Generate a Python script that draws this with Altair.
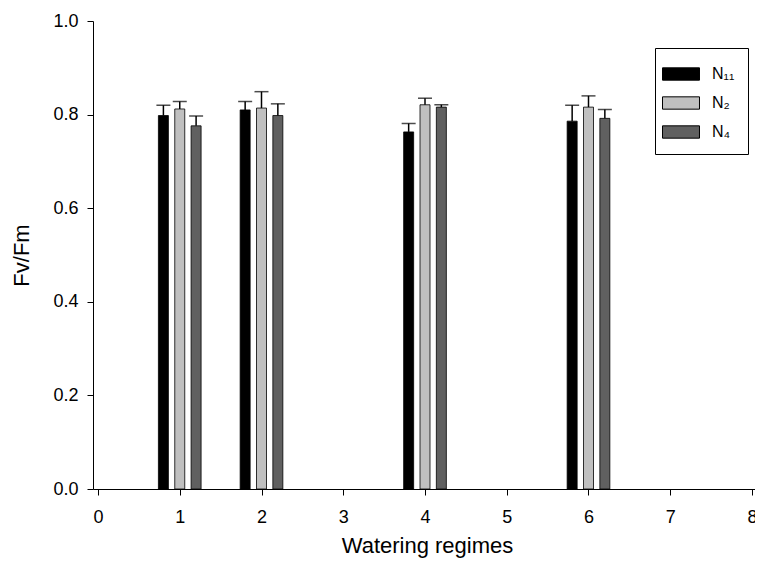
import altair as alt
import pandas as pd

# ---- data ----
regimes = [1, 2, 4, 6]
series = ["N₁₁", "N₂", "N₄"]
n11_mean = [0.798, 0.810, 0.763, 0.786]
n11_upper = [0.820, 0.828, 0.781, 0.820]
n2_mean = [0.812, 0.814, 0.821, 0.816]
n2_upper = [0.828, 0.849, 0.835, 0.840]
n4_mean = [0.776, 0.798, 0.816, 0.792]
n4_upper = [0.797, 0.823, 0.821, 0.811]
colors = ["#000000", "#c0c0c0", "#606060"]
x_ticks = [0, 1, 2, 3, 4, 5, 6, 7, 8]
y_ticks = [0.0, 0.2, 0.4, 0.6, 0.8, 1.0]

means = [n11_mean, n2_mean, n4_mean]
uppers = [n11_upper, n2_upper, n4_upper]
rows = []
for si, name in enumerate(series):
    for ri, reg in enumerate(regimes):
        rows.append({"regime": reg, "series": name, "idx": si,
                     "mean": means[si][ri], "upper": uppers[si][ri]})
df = pd.DataFrame(rows)

FONT = "Liberation Sans"

base = alt.Chart(df).transform_calculate(
    xpos="datum.regime + (datum.idx - 1) * 0.2"
)

x_enc = alt.X(
    "xpos:Q",
    scale=alt.Scale(domain=[0, 8], range=[0, 664], nice=False, zero=False),
    axis=alt.Axis(values=x_ticks, format="d", title="Watering regimes",
                  labelPadding=13, titlePadding=9, titleX=334),
)
y_scale = alt.Scale(domain=[0, 1], nice=False)

bars = base.mark_bar(width=10, stroke="#000000", strokeWidth=0.8).encode(
    x=x_enc,
    y=alt.Y("mean:Q", scale=y_scale,
            axis=alt.Axis(values=y_ticks, format=".1f", title="Fv/Fm",
                          labelPadding=9, titlePadding=19)),
    color=alt.Color(
        "series:N",
        scale=alt.Scale(domain=series, range=colors),
        legend=alt.Legend(
            title=None, orient="none", legendX=562, legendY=27,
            fillColor="white", strokeColor="black",
            padding=13, cornerRadius=0,
            symbolType="M-1.5,-0.5L1.5,-0.5L1.5,0.5L-1.5,0.5Z",
            symbolSize=608, symbolStrokeColor="black", symbolStrokeWidth=1,
            symbolOpacity=1,
            labelFont=FONT, labelFontSize=16, labelColor="black",
            labelOffset=18, rowPadding=7,
        ),
    ),
)

err = base.mark_rule(color="black", strokeWidth=1.5).encode(
    x=x_enc, y=alt.Y("mean:Q", scale=y_scale), y2="upper:Q"
)
caps = base.mark_tick(orient="horizontal", size=14, thickness=1.5,
                      color="black").encode(
    x=x_enc, y=alt.Y("upper:Q", scale=y_scale)
)

chart = (
    alt.layer(bars, err, caps)
    .properties(
        width=662, height=468,
        autosize=alt.AutoSizeParams(type="none"),
        padding={"left": 85, "top": 13, "right": 0, "bottom": 69},
    )
    .configure_view(stroke="transparent")
    .configure_legend(strokeWidth=1)
    .configure_axis(
        grid=False, domainColor="black", domainWidth=1,
        tickColor="black", tickSize=6, tickWidth=1,
        labelColor="black", titleColor="black",
        labelFont=FONT, titleFont=FONT, labelFontSize=18, titleFontSize=22,
        titleFontWeight="normal",
    )
)

chart.save("out.html", embed_options={"renderer": "svg", "actions": False})
